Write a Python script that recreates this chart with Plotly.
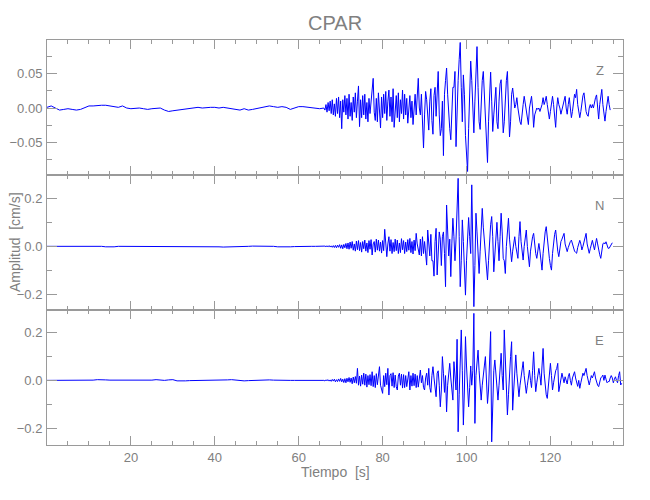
import numpy as np
import plotly.graph_objects as go
from plotly.subplots import make_subplots

# ---- data (amplitudes in 1e-3 cm/s) ----
# quiet pre-event part, sampled every 1 s from t = 0 s
z_quiet = [1,3,0,-3,-2,-1,-2,-3,-2,1,
           3,3,4,4,4,3,2,1,3,0,
           -1,0,0,-1,-2,-1,-1,0,-3,-5,
           -4,-3,-3,-1,0,1,1,0,1,1,
           1,0,1,0,-1,-1,-3,-1,-3,-2,
           -1,0,2,3,2,1,2,1,-2,0,
           2,2,1,0,0,-1]
n_quiet = [0,0,0,1,0,1,2,2,1,0,
           0,1,1,0,-2,-3,-2,0,0,0,
           0,1,1,0,0,1,0,0,0,1,
           1,0,0,0,0,-1,0,1,1,0,
           -1,-2,-3,-3,-2,-1,0,0,0,1,
           1,0,1,2,0,-2,-3,-3,-2,-1,
           0,1,1,0,0,1]
e_quiet = [0,0,-1,0,-1,-1,-1,-2,-1,0,
           0,1,3,4,2,1,1,0,-1,-1,
           -1,0,0,0,0,1,3,1,0,2,
           3,-2,-3,-2,-1,-1,0,0,0,0,
           0,0,1,2,3,1,-1,-2,-1,0,
           2,3,3,2,1,0,-1,-1,0,0,
           0,-1,-1,0,1,2]

# event part, sampled every 0.25 s from t = 66 s
z_active = [
    0,-3,5,-6, 8,-4,10,-8, 12,-10,6,-12, 14,-8,16,-14,
    10,-30,12,-6, 18,-10,14,-16, 20,-12,8,-18, 16,-6,22,-14,
    10,32,-27,12, -14,18,-10,20, -16,8,-20,14, -8,12,26,43,
    -6,-18,14,-20, 22,-10,-29,16, -14,20,-8,24, -18,10,26,-12,
    16,-20,28,-28, -10,18,-14,22, -20,12,-8,26, -16,20,-10,14,
    -22,8,18,-14, 10,-24,6,20, -10,30,43,0, -10,20,-30,-58,
    -10,24,12,-20, -32,10,28,-18, -38,18,30,-12, 20,53,-10,-40,
    -30,10,-69,20, 40,58,20,-10, -30,-46,0,30, 30,53,-56,10,
    40,70,95,30, -20,48,20,-40, -70,-92,-30,30, 68,40,-10,-36,
    10,60,89,30, -20,-31,10,40, 53,20,-30,-60, -79,-20,30,52,
    10,-34,-10,20, 30,-20,-30,10, 35,41,-10,-36, -20,20,40,53,
    -10,-42,-20,20, 29,10,0,5, 15,0,-12,-20, -24,-5,5,17,
    5,-5,-15,-24, 0,10,17,0, -28,-10,-4,0, -2,0,-5,0,
    5,15,5,10, 17,5,-5,-16, -5,8,17,5, -10,-28,0,15,
    5,0,-9,-2, 5,12,17,0, -9,5,15,0, -14,-5,10,20,
    15,27,5,-8, -14,-5,10,18, 22,5,-5,-10, -12,0,5,0,
    5,0,10,15, 19,0,-16,5, 15,27,5,-10, -19,-5,10,17,
    5,-3]
n_active = [
    0,1,-1,2, -2,3,-3,2, -4,3,-5,4, -6,5,-4,7,
    -8,6,-10,8, -6,12,-10,14, -12,18,-8,20, -16,10,-20,22,
    -14,24,-18,16, -24,20,-10,26, -20,14,-26,24, -12,28,-36,10,
    20,-24,30,-16, 26,-20,18,-28, 24,-18,71,20, -43,10,40,-20,
    28,-30,16,-22, 30,-18,26,-30, 14,-26,32,-14, 24,-30,18,-22,
    28,-16,33,-26, 20,-32,26,-18, 54,10,-20,-36, 30,-40,40,-30,
    20,-30,-78,68, 10,-40,50,-60, -60,-124,20,75, -119,-20,60,30,
    -80,40,60,-30, -168,172,40,-40, 30,-126,10,117, 40,-60,30,150,
    283,40,-168,-60, 110,20,-80,-203, -60,80,120,40, -30,256,40,-251,
    -80,138,60,-60, -113,-20,80,158, 80,20,-40,-100, -140,-60,40,90,
    124,40,-106,-30, 60,100,20,-60, 40,138,60,-50, -60,-113,0,60,
    117,30,-20,-64, -20,20,40,0, -30,-50,40,103, 20,-30,-57,0,
    40,68,0,-50, -85,-20,20,40, 54,0,-30,-50, -10,12,-20,-60,
    -99,-30,30,60, 82,30,-20,-50, -80,-99,-30,30, 50,68,10,-20,
    -43,-10,20,30, 40,54,10,-10, -22,-5,10,20, 26,10,-10,-20,
    -25,-29,-5,15, 25,10,-15,0, 20,40,54,10, -10,-29,-10,15,
    25,5,-15,10, 33,10,-20,-35, -50,-20,10,15, 10,19,0,-8,
    -8,0,10,15]
e_active = [
    0,-2,2,-1, 3,-3,2,-4, 4,-3,5,-6, 3,-5,6,-4,
    8,-6,5,-9, 7,-10,9,-6, 12,-8,10,-14, 14,-10,16,-12,
    50,-20,18,-24, 22,-16,30,-20, 26,-28,20,-18, 24,-22,36,-26,
    20,-30,28,-18, 30,57,-20,-40, -54,20,-26,30, -18,50,-61,20,
    28,-24,32,-30, 22,-26,-40,18, 30,-20,26,-32, 24,-30,20,-26,
    18,36,-40,20, -24,30,-22,26, -30,20,-28,24, 43,-10,20,-30,
    -40,10,30,-20, 50,-30,-50,20, 57,10,-30,-68, 30,40,-20,-110,
    -40,99,30,-50, 20,-131,-20,40, 71,10,-40,-82, 78,20,-40,171,
    -214,-60,80,210, 40,-186,-40,182, 60,-50,-110,-30, 60,-20,40,279,
    -179,20,60,126, 40,-40,-82,-20, 40,60,99,20, -96,-40,50,203,
    -256,-60,40,85, 20,-40,-82,-20, 40,113,20,-40, 210,60,-80,-144,
    -60,40,100,161, -124,-40,50,106, 30,-30,-68,-20, 20,50,78,20,
    -20,-54,-20,20, 43,0,-30,40, 119,20,-47,-10, 20,50,20,-20,
    60,133,30,-40, -60,-75,-20,30, 71,20,-40,-10, 20,40,50,71,
    -47,-20,10,30, 10,-10,15,0, -15,15,29,0, -20,10,25,36,
    10,-15,-25,0, -33,-10,15,30, 20,40,50,20, -10,-19,0,20,
    10,25,36,10, -10,-20,-26,0, 10,15,22,0, 22,5,-10,-5,
    -5,10,20,10, -10,5,15,0, -10,20,36,-19, -12]

components = ["Z", "N", "E"]
quiet = [z_quiet, n_quiet, e_quiet]
active = [z_active, n_active, e_active]
quiet_dt, active_t0, active_dt = 1.0, 66.0, 0.25

y_ranges = [[-0.0971, 0.0986], [-0.265, 0.297], [-0.269, 0.293]]
y_ticks = [[-0.05, 0.0, 0.05], [-0.2, 0.0, 0.2], [-0.2, 0.0, 0.2]]
y_minor = [0.025, 0.1, 0.1]
y_fmt = [".2f", ".1f", ".1f"]
x_range = [0, 137.3]
x_ticks = [20, 40, 60, 80, 100, 120]

AX = "#9a9a9a"
TX = "#808080"
FONT = "Liberation Sans Narrow, Liberation Sans, Arial, sans-serif"

fig = make_subplots(rows=3, cols=1, shared_xaxes=True, vertical_spacing=0)

for i in range(3):
    tq = np.arange(len(quiet[i])) * quiet_dt
    ta = active_t0 + np.arange(len(active[i])) * active_dt
    t = np.concatenate([tq, ta])
    v = np.concatenate([np.array(quiet[i]), np.array(active[i])]) * 1e-3
    fig.add_trace(go.Scatter(x=t, y=v, mode="lines",
                             line=dict(color="#0000ff", width=1),
                             showlegend=False, hoverinfo="skip"),
                  row=i + 1, col=1)
    fig.update_yaxes(range=y_ranges[i], tickmode="array", tickvals=y_ticks[i],
                     tickformat=y_fmt[i], ticks="inside", ticklen=10,
                     tickcolor=AX, showline=True, linecolor=AX, linewidth=1,
                     mirror="allticks", showgrid=False, zeroline=False,
                     automargin=False, ticklabelstandoff=1,
                     tickfont=dict(family=FONT, size=13, color=TX),
                     minor=dict(dtick=y_minor[i], tick0=0, ticks="inside",
                                ticklen=5, tickcolor=AX),
                     row=i + 1, col=1)
    fig.update_xaxes(range=x_range, tickmode="array", tickvals=x_ticks,
                     ticks="inside", ticklen=9, tickcolor=AX, showline=True,
                     linecolor=AX, linewidth=1, mirror="allticks",
                     showgrid=False, zeroline=False, automargin=False,
                     tickfont=dict(family=FONT, size=13, color=TX),
                     minor=dict(dtick=5, tick0=0, ticks="inside", ticklen=4,
                                tickcolor=AX),
                     showticklabels=(i == 2),
                     row=i + 1, col=1)
    fig.add_annotation(text=components[i], xref="x domain" if i == 0 else f"x{i+1} domain",
                       yref="y domain" if i == 0 else f"y{i+1} domain",
                       x=0.97, y=0.845, showarrow=False,
                       font=dict(family=FONT, size=13, color=TX))

fig.add_annotation(text="CPAR", xref="paper", yref="paper", x=0.5, y=1.043,
                   showarrow=False, yanchor="middle",
                   font=dict(family=FONT, size=20, color=TX))
fig.add_annotation(text="Tiempo  [s]", xref="paper", yref="paper", x=0.5, y=-0.066,
                   showarrow=False, yanchor="middle",
                   font=dict(family=FONT, size=14, color=TX))
fig.add_annotation(text="Amplitud  [cm/s]", xref="paper", yref="paper", x=-0.0564,
                   y=0.5, showarrow=False, textangle=-90, xanchor="center",
                   yanchor="middle", font=dict(family=FONT, size=14, color=TX))

fig.update_layout(width=650, height=500, autosize=False,
                  margin=dict(l=47, r=27, t=40, b=55),
                  paper_bgcolor="white", plot_bgcolor="white",
                  showlegend=False)

fig.write_html("out.html", config={"displayModeBar": False},
               post_script="document.body.style.margin='0';document.body.style.overflow='hidden';")
